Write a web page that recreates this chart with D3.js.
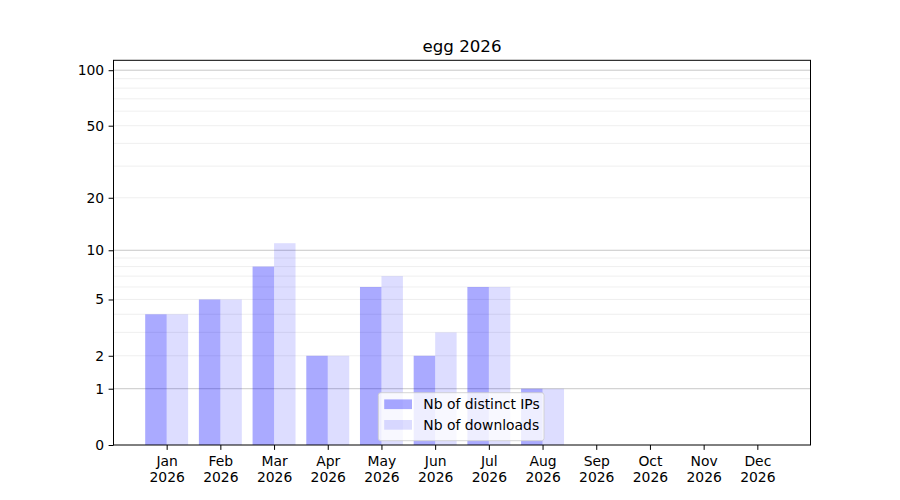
<!DOCTYPE html>
<html>
<head>
<meta charset="utf-8">
<script src="https://cdn.jsdelivr.net/npm/d3@7"></script>
<style>
  body { margin: 0; background: #fff; }
  svg { font-family: "DejaVu Sans", sans-serif; }
</style>
</head>
<body>
<svg id="chart" width="900" height="500"></svg>
<script>
const title = "egg 2026";
const months = ["Jan", "Feb", "Mar", "Apr", "May", "Jun", "Jul", "Aug", "Sep", "Oct", "Nov", "Dec"];
const yearLabel = "2026";
const distinctIPs = [4, 5, 8, 2, 6, 2, 6, 1, 0, 0, 0, 0];
const downloads = [4, 5, 11, 2, 7, 3, 6, 1, 0, 0, 0, 0];
const yTickValues = [0, 1, 2, 5, 10, 20, 50, 100];
const majorGrid = [1, 10, 100];
const minorGrid = [2, 3, 4, 5, 6, 7, 8, 9, 20, 30, 40, 50, 60, 70, 80, 90];
const seriesNames = ["Nb of distinct IPs", "Nb of downloads"];

const svg = d3.select("#chart");
const L = 113.5, R = 810.5, T = 60.3, B = 445;
const FS = "13.9px";

const x = d3.scaleLinear().domain([-0.99, 11.99]).range([L, R]);
// value v plotted as log10(1 + v)
const yLog = d3.scaleLog().domain([1, 114.1]).range([B, T]);
const y = v => yLog(v + 1);

// grid
const g = svg.append("g");
g.selectAll(".minor").data(minorGrid).join("line")
  .attr("x1", L).attr("x2", R)
  .attr("y1", d => y(d)).attr("y2", d => y(d))
  .attr("stroke", "#ebebeb").attr("stroke-width", 0.8);
g.selectAll(".major").data(majorGrid).join("line")
  .attr("x1", L).attr("x2", R)
  .attr("y1", d => y(d)).attr("y2", d => y(d))
  .attr("stroke", "#c8c8c8").attr("stroke-width", 1);

// bars
const w = 0.4;
svg.append("g").selectAll("rect").data(distinctIPs).join("rect")
  .attr("x", (d, i) => x(i - w))
  .attr("width", (d, i) => x(i) - x(i - w))
  .attr("y", d => y(d))
  .attr("height", d => B - y(d))
  .attr("fill", "blue").attr("fill-opacity", 0.333);
svg.append("g").selectAll("rect").data(downloads).join("rect")
  .attr("x", (d, i) => x(i))
  .attr("width", (d, i) => x(i + w) - x(i))
  .attr("y", d => y(d))
  .attr("height", d => B - y(d))
  .attr("fill", "blue").attr("fill-opacity", 0.133);

// axes frame
svg.append("rect").attr("x", L).attr("y", T).attr("width", R - L).attr("height", B - T)
  .attr("fill", "none").attr("stroke", "#000").attr("stroke-width", 1);

// y axis
const yAxis = d3.axisLeft(yLog)
  .tickValues(yTickValues.map(v => v + 1))
  .tickFormat(d => String(Math.round(d - 1)))
  .tickSize(4.9).tickPadding(4.4);
const ya = svg.append("g").attr("transform", `translate(${L},0)`).call(yAxis);
ya.select(".domain").remove();
ya.selectAll("text").attr("font-size", FS).attr("fill", "#000")
  .attr("font-family", "DejaVu Sans");
ya.selectAll("line").attr("stroke", "#000");

// x axis
const xAxis = d3.axisBottom(x)
  .tickValues(d3.range(months.length))
  .tickFormat(i => months[i])
  .tickSize(4.9).tickPadding(4.4);
const xa = svg.append("g").attr("transform", `translate(0,${B})`).call(xAxis);
xa.select(".domain").remove();
xa.selectAll("line").attr("stroke", "#000");
xa.selectAll("text").attr("font-size", FS).attr("fill", "#000")
  .attr("font-family", "DejaVu Sans")
  .attr("y", null).attr("dy", null)
  .each(function(i) {
    const t = d3.select(this);
    t.text(null);
    t.append("tspan").attr("x", 0).attr("y", 21.2).text(months[i]);
    t.append("tspan").attr("x", 0).attr("y", 37.2).text(yearLabel);
  });

// title
svg.append("text").attr("x", (L + R) / 2).attr("y", 51.8)
  .attr("text-anchor", "middle").attr("font-size", "16.67px").attr("fill", "#000")
  .text(title);

// legend
const lg = svg.append("g");
lg.append("rect").attr("x", 378.3).attr("y", 392.7).attr("width", 165.7).attr("height", 48)
  .attr("rx", 2.5).attr("fill", "#fff").attr("fill-opacity", 0.8)
  .attr("stroke", "#cccccc").attr("stroke-opacity", 0.8).attr("stroke-width", 1);
const items = [
  { name: seriesNames[0], op: 0.333 },
  { name: seriesNames[1], op: 0.133 }
];
items.forEach((it, k) => {
  const cy = 404.3 + k * 20.6;
  lg.append("rect").attr("x", 384.2).attr("y", cy - 4.9).attr("width", 27.8).attr("height", 9.7)
    .attr("fill", "blue").attr("fill-opacity", it.op);
  lg.append("text").attr("x", 423.3).attr("y", cy + 5)
    .attr("font-size", FS).attr("fill", "#000").text(it.name);
});
</script>
</body>
</html>
